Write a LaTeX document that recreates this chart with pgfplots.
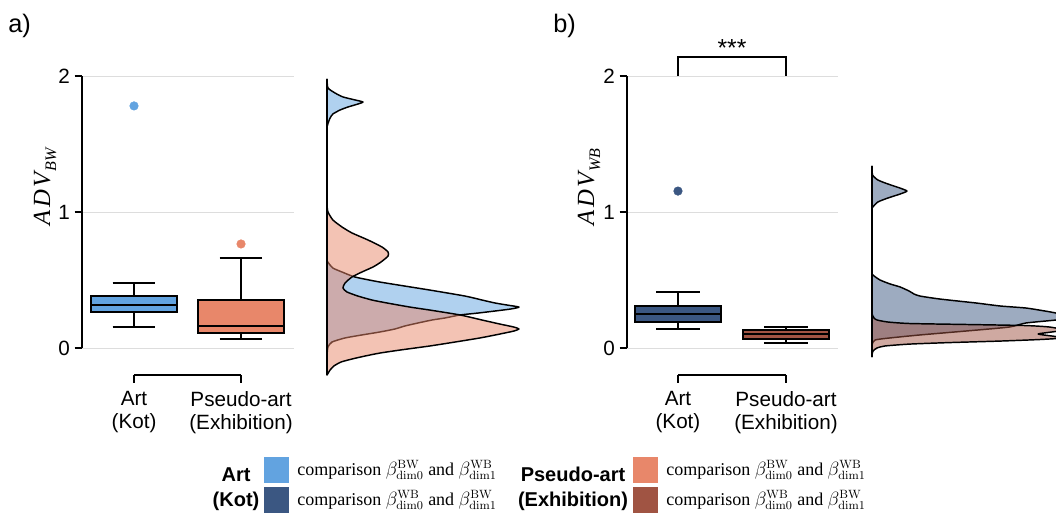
\documentclass[border=0pt]{standalone}
\usepackage{pgfplots}
\pgfplotsset{compat=1.18}
\usepgfplotslibrary{statistics}
\usepackage[no-math]{fontspec}
\setmainfont{Liberation Sans}
\newfontfamily\serif{Liberation Serif}

\definecolor{artBW}{RGB}{98,163,224}
\definecolor{artWB}{RGB}{59,87,130}
\definecolor{psBW}{RGB}{232,135,106}
\definecolor{psWB}{RGB}{160,84,67}
\definecolor{gridgray}{RGB}{221,221,221}

\pgfplotsset{
  boxaxis/.style={
    scale only axis, anchor=south west,
    height=224.4pt, ymin=-0.2, ymax=2,
    axis lines*=left, axis line style={draw=none},
    ytick={0,1,2}, xtick={0,1},
    xticklabels={{Art\\(Kot)},{Pseudo-art\\(Exhibition)}},
    xticklabel style={align=center, font=\fontsize{15.5}{17.5}\selectfont, yshift=-3pt},
    yticklabel style={font=\fontsize{15.5}{18}\selectfont},
    /pgf/number format/assume math mode=true,
    tick align=outside, major tick length=5.5pt,
    tick style={black, line width=1.5pt},
    ymajorgrids, grid style={gridgray, line width=0.75pt},
    clip=false,
    boxplot/draw direction=y,
    boxplot/box extend=0.8,
    boxplot/whisker extend=0.4,
  },
  densaxis/.style={
    scale only axis, anchor=south west, height=224.4pt,
    ymin=-0.2, ymax=2, xmin=-0.02, hide axis,
  },
  bx/.style={draw=black, line width=1.5pt, fill=#1, solid},
  outl/.style={only marks, mark=*, mark size=3.2pt, color=#1},
  dens/.style={fill=#1, fill opacity=0.5, draw=black, line width=1.1pt,
    line join=round, smooth, tension=0.35},
}
% italic serif axis title with a lowered subscript
\newcommand\advlabel[1]{{\serif\itshape\fontsize{18.5}{20}\selectfont
  A\kern2pt D\kern2pt V\kern0.8pt\raisebox{-4.5pt}{\fontsize{12}{13}\selectfont #1}}}

\begin{document}
\begin{tikzpicture}[x=0.75pt, y=-0.75pt]
\useasboundingbox (0,0) rectangle (1056,515);

% ---------- a) boxplots, BW ----------
\begin{axis}[boxaxis, at={(61.5pt,-281.4pt)}, width=159pt, xmin=-0.486, xmax=1.495]
\addplot[bx=artBW, boxplot prepared={draw position=0, median=0.316,
  upper quartile=0.38, lower quartile=0.265,
  upper whisker=0.48, lower whisker=0.155}] coordinates {};
\addplot[bx=psBW, boxplot prepared={draw position=1, median=0.16,
  upper quartile=0.355, lower quartile=0.11,
  upper whisker=0.66, lower whisker=0.065}] coordinates {};
\addplot[outl=artBW] coordinates {(0,1.78)};
\addplot[outl=psBW] coordinates {(1,0.765)};
\draw[line width=1.5pt] (axis cs:-0.486,0) -- (axis cs:-0.486,2);
\draw[line width=1.5pt] (axis cs:0,-0.2) -- (axis cs:1,-0.2);
\end{axis}

% ---------- a) densities ----------
\begin{axis}[densaxis, at={(242.37pt,-281.4pt)}, width=149.76pt, xmax=1.02, clip=false]
\addplot[dens=artBW] coordinates {
 (0,1.978) (0.005,1.912) (0.042,1.875) (0.083,1.846) (0.146,1.824) (0.1875,1.809)
 (0.161,1.794) (0.109,1.772) (0.068,1.75) (0.031,1.721) (0.016,1.691) (0.003,1.640)
 (0,1.566) (0,0.684) (0.005,0.632) (0.031,0.588) (0.078,0.559) (0.146,0.522)
 (0.276,0.485) (0.536,0.426) (0.719,0.382) (0.807,0.353) (0.875,0.331) (0.9375,0.316)
 (1.0,0.301) (0.958,0.287) (0.875,0.272) (0.786,0.257) (0.693,0.243) (0.615,0.221)
 (0.547,0.206) (0.474,0.184) (0.406,0.162) (0.354,0.140) (0.276,0.118) (0.182,0.096)
 (0.094,0.074) (0.026,0.044) (0.005,0.007) (0,-0.051)} -- cycle;
\addplot[dens=psBW] coordinates {
 (0,1.051) (0.005,1.0) (0.031,0.941) (0.078,0.890) (0.130,0.846) (0.214,0.794)
 (0.286,0.743) (0.318,0.706) (0.318,0.676) (0.281,0.632) (0.240,0.596) (0.182,0.559)
 (0.130,0.522) (0.094,0.478) (0.083,0.441) (0.104,0.412) (0.161,0.382) (0.234,0.353)
 (0.3125,0.331) (0.432,0.301) (0.536,0.279) (0.693,0.243) (0.807,0.206) (0.901,0.176)
 (0.974,0.154) (1.0,0.140) (0.974,0.125) (0.901,0.103) (0.797,0.074) (0.667,0.044)
 (0.536,0.015) (0.380,-0.015) (0.276,-0.037) (0.198,-0.059) (0.130,-0.081)
 (0.073,-0.103) (0.036,-0.132) (0.016,-0.162) (0,-0.199)} -- cycle;
\draw[line width=1.1pt] (axis cs:0,1.978) -- (axis cs:0,-0.199);
\end{axis}

% ---------- b) boxplots, WB ----------
\begin{axis}[boxaxis, at={(470.25pt,-281.4pt)}, width=158.1pt, xmin=-0.472, xmax=1.48]
\addplot[bx=artWB, boxplot prepared={draw position=0, median=0.248,
  upper quartile=0.309, lower quartile=0.193,
  upper whisker=0.414, lower whisker=0.140}] coordinates {};
\addplot[bx=psWB, boxplot prepared={draw position=1, median=0.101,
  upper quartile=0.132, lower quartile=0.066,
  upper whisker=0.157, lower whisker=0.039}] coordinates {};
\addplot[outl=artWB] coordinates {(0,1.154)};
\draw[line width=1.5pt] (axis cs:-0.472,0) -- (axis cs:-0.472,2);
\draw[line width=1.5pt] (axis cs:0,-0.2) -- (axis cs:1,-0.2);
\draw[line width=1.5pt] (axis cs:0,2) -- (axis cs:0,2.14) -- (axis cs:1,2.14) -- (axis cs:1,2);
\node[font=\fontsize{18.5}{20}\selectfont, anchor=south, inner sep=0.5pt] at (axis cs:0.5,2.14) {***};
\end{axis}

% ---------- b) densities ----------
\begin{axis}[densaxis, at={(651.12pt,-281.4pt)}, width=140.83pt, xmax=0.958]
\addplot[dens=artWB] coordinates {
 (0,1.338) (0.003,1.272) (0.031,1.235) (0.083,1.206) (0.146,1.176) (0.182,1.154)
 (0.146,1.132) (0.083,1.103) (0.031,1.074) (0.005,1.037) (0,1.0) (0,0.574)
 (0.005,0.537) (0.042,0.5) (0.094,0.471) (0.146,0.449) (0.193,0.419) (0.219,0.397)
 (0.25,0.382) (0.354,0.360) (0.542,0.331) (0.667,0.309) (0.802,0.294) (0.901,0.272)
 (0.958,0.257) (1.0,0.235) (0.979,0.221) (0.958,0.206) (0.802,0.184) (0.714,0.154)
 (0.490,0.125) (0.25,0.096) (0.094,0.074) (0.016,0.059) (0,0.022) (0,-0.066)} -- cycle;
\addplot[dens=psWB] coordinates {
 (0,0.25) (0.010,0.221) (0.026,0.206) (0.083,0.191) (0.198,0.180) (0.490,0.173)
 (0.802,0.165) (0.927,0.154) (1.0,0.132) (0.9375,0.118) (0.865,0.103) (0.9375,0.088)
 (1.0,0.074) (0.875,0.0625) (0.667,0.051) (0.406,0.040) (0.198,0.029) (0.068,0.015)
 (0.026,0.0) (0.005,-0.022) (0,-0.051)} -- cycle;
\draw[line width=1.1pt] (axis cs:0,1.338) -- (axis cs:0,-0.066);
\end{axis}

% ---------- axis titles and panel letters ----------
\node[rotate=90] at (45,187) {\advlabel{BW}};
\node[rotate=90] at (589,187) {\advlabel{WB}};
\node[anchor=base west, inner sep=0, font=\fontsize{19}{20}\selectfont] at (8,32) {a)};
\node[anchor=base west, inner sep=0, font=\fontsize{19}{20}\selectfont] at (553,32) {b)};

% ---------- key ----------
\node[font=\fontsize{15}{18.75}\selectfont\bfseries, align=center] at (236,489) {Art\\(Kot)};
\fill[artBW] (264,457) rectangle (289,483);
\fill[artWB] (264,487) rectangle (289,513);
\node[anchor=base west, inner sep=0, font=\serif\fontsize{13.5}{16}\selectfont] at (297,475)
  {comparison $\beta^{\mathrm{BW}}_{\mathrm{dim0}}$ and $\beta^{\mathrm{WB}}_{\mathrm{dim1}}$};
\node[anchor=base west, inner sep=0, font=\serif\fontsize{13.5}{16}\selectfont] at (297,505)
  {comparison $\beta^{\mathrm{WB}}_{\mathrm{dim0}}$ and $\beta^{\mathrm{BW}}_{\mathrm{dim1}}$};

\node[font=\fontsize{15}{18.75}\selectfont\bfseries, align=center] at (573,489) {Pseudo-art\\(Exhibition)};
\fill[psBW] (633,457) rectangle (658,483);
\fill[psWB] (633,487) rectangle (658,513);
\node[anchor=base west, inner sep=0, font=\serif\fontsize{13.5}{16}\selectfont] at (666,475)
  {comparison $\beta^{\mathrm{BW}}_{\mathrm{dim0}}$ and $\beta^{\mathrm{WB}}_{\mathrm{dim1}}$};
\node[anchor=base west, inner sep=0, font=\serif\fontsize{13.5}{16}\selectfont] at (666,505)
  {comparison $\beta^{\mathrm{WB}}_{\mathrm{dim0}}$ and $\beta^{\mathrm{BW}}_{\mathrm{dim1}}$};
\end{tikzpicture}
\end{document}
